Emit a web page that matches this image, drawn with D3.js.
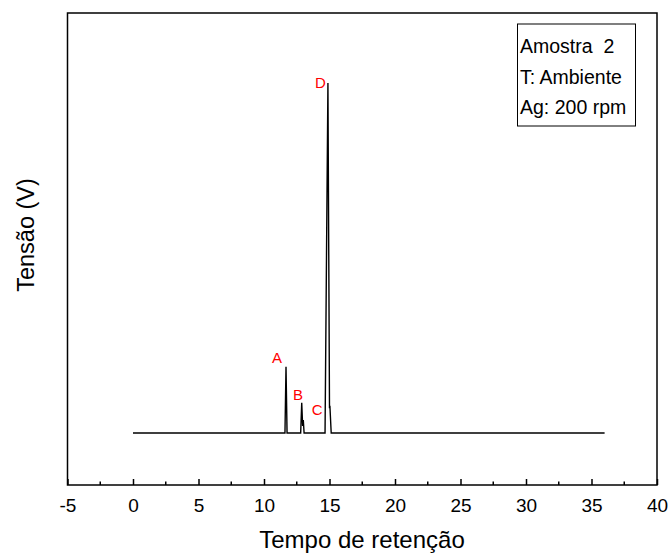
<!DOCTYPE html>
<html>
<head>
<meta charset="utf-8">
<script src="https://cdn.jsdelivr.net/npm/d3@7"></script>
<style>
  body { margin: 0; background: #fff; }
  text { font-family: "Liberation Sans", Arial, sans-serif; }
</style>
</head>
<body>
<svg id="chart" width="670" height="553"></svg>
<script>
// chromatogram trace (time in min, signal in V, arbitrary scale)
var times   = [0, 11.60, 11.68, 11.76, 12.80, 12.88, 12.95, 13.00, 13.06, 14.66, 14.88, 15.00, 15.03, 15.13, 36];
var signals = [0, 0,     0.189, 0,     0,     0.086, 0.020, 0.037, 0,     0,     1.000, 0.071, 0.078, 0,     0];

var peakNames = ["A", "B", "C", "D"];
var peakTimes = [11.0, 12.6, 14.05, 14.3];
var peakLabelY = [0.215, 0.11, 0.065, 1.0];

var xTicks = [-5, 0, 5, 10, 15, 20, 25, 30, 35, 40];
var infoLines = ["Amostra  2", "T: Ambiente", "Ag: 200 rpm"];

var svg = d3.select("#chart");
var margin = {left: 67.5, top: 13, right: 657, bottom: 485};

var x = d3.scaleLinear().domain([-5, 40]).range([margin.left, margin.right]);
var y = d3.scaleLinear().domain([-0.1486, 1.2]).range([margin.bottom, margin.top]);

// frame
svg.append("rect")
    .attr("x", margin.left).attr("y", margin.top)
    .attr("width", margin.right - margin.left)
    .attr("height", margin.bottom - margin.top)
    .attr("fill", "none").attr("stroke", "#000").attr("stroke-width", 1.5);

// bottom axis, ticks pointing inward
var xAxis = d3.axisBottom(x).tickValues(xTicks).tickSize(-6)
    .tickFormat(function(d) { return String(d); });
var gx = svg.append("g")
    .attr("transform", "translate(0," + margin.bottom + ")")
    .call(xAxis);
gx.select(".domain").remove();
gx.selectAll("line").attr("stroke-width", 1.5);
gx.selectAll("text").attr("font-size", 19).attr("fill", "#000")
    .attr("y", 26.5).attr("dy", 0);

// minor ticks
var minor = d3.range(-2.5, 40, 5);
svg.append("g").selectAll("line")
    .data(minor).enter().append("line")
    .attr("x1", function(d) { return x(d); })
    .attr("x2", function(d) { return x(d); })
    .attr("y1", margin.bottom).attr("y2", margin.bottom - 3.5)
    .attr("stroke", "#000").attr("stroke-width", 1.5);

// axis titles
svg.append("text")
    .attr("x", 362).attr("y", 548)
    .attr("text-anchor", "middle").attr("font-size", 24)
    .text("Tempo de retenção");

svg.append("text")
    .attr("transform", "translate(34," + 235 + ") rotate(-90)")
    .attr("text-anchor", "middle").attr("font-size", 23.5)
    .text("Tensão (V)");

// trace
var pts = times.map(function(t, i) { return [t, signals[i]]; });
var line = d3.line()
    .x(function(d) { return x(d[0]); })
    .y(function(d) { return y(d[1]); });

svg.append("path")
    .datum(pts)
    .attr("d", line)
    .attr("fill", "none").attr("stroke", "#000").attr("stroke-width", 1.4);

// peak labels
svg.append("g").selectAll("text")
    .data(peakNames).enter().append("text")
    .attr("x", function(d, i) { return x(peakTimes[i]); })
    .attr("y", function(d, i) { return y(peakLabelY[i]); })
    .attr("text-anchor", "middle").attr("dy", "0.35em")
    .attr("font-size", 15).attr("fill", "#ff0000")
    .text(function(d) { return d; });

// info box
svg.append("rect")
    .attr("x", 517.5).attr("y", 24).attr("width", 118).attr("height", 102)
    .attr("fill", "#fff").attr("stroke", "#000").attr("stroke-width", 1);

svg.append("g").selectAll("text")
    .data(infoLines).enter().append("text")
    .attr("x", 520)
    .attr("y", function(d, i) { return 53 + i * 30.5; })
    .attr("font-size", 19.5)
    .style("white-space", "pre")
    .text(function(d) { return d; });
</script>
</body>
</html>
